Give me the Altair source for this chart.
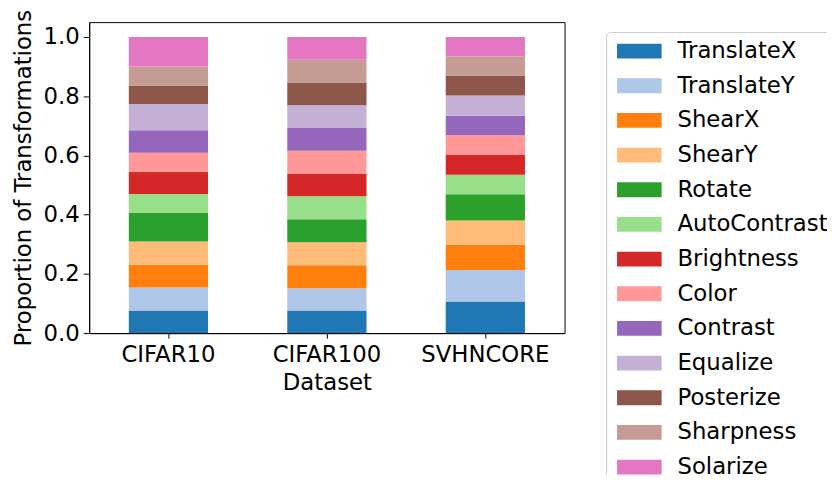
import altair as alt
import pandas as pd

datasets = ["CIFAR10", "CIFAR100", "SVHNCORE"]
transforms = ["TranslateX", "TranslateY", "ShearX", "ShearY", "Rotate", "AutoContrast",
              "Brightness", "Color", "Contrast", "Equalize", "Posterize", "Sharpness", "Solarize"]
colors = ["#1f77b4", "#aec7e8", "#ff7f0e", "#ffbb78", "#2ca02c", "#98df8a", "#d62728",
          "#ff9896", "#9467bd", "#c5b0d5", "#8c564b", "#c49c94", "#e377c2"]

cifar10 = [0.0762, 0.0774, 0.0773, 0.0785, 0.0976, 0.0627, 0.0751, 0.0639, 0.0763, 0.0885, 0.0628, 0.0639, 0.0998]
cifar100 = [0.0762, 0.0751, 0.0774, 0.0785, 0.0773, 0.0774, 0.0762, 0.0774, 0.0773, 0.0763, 0.0773, 0.0762, 0.0774]
svhncore = [0.1065, 0.1065, 0.0863, 0.0807, 0.0886, 0.0662, 0.0683, 0.0651, 0.0661, 0.0684, 0.0673, 0.0639, 0.0661]

rows = []
for ds, vals in zip(datasets, [cifar10, cifar100, svhncore]):
    for i, (t, v) in enumerate(zip(transforms, vals)):
        rows.append({"Dataset": ds, "Transformation": t, "Proportion": v, "idx": i})
df = pd.DataFrame(rows)

FONT = "DejaVu Sans"
FS = 23

chart = alt.Chart(df).mark_bar().encode(
    x=alt.X("Dataset:N", sort=datasets,
            scale=alt.Scale(paddingInner=0.5, paddingOuter=0.25),
            axis=alt.Axis(title="Dataset", labelAngle=0, labelFontSize=FS, titleFontSize=FS,
                          titleFontWeight="normal", tickSize=5, labelPadding=6, titlePadding=5,
                          domainColor="black", tickColor="black", labelColor="black", titleColor="black")),
    y=alt.Y("Proportion:Q", stack="zero",
            scale=alt.Scale(domain=[0, 1.05], nice=False),
            axis=alt.Axis(title="Proportion of Transformations", values=[0, 0.2, 0.4, 0.6, 0.8, 1.0],
                          format=".1f", labelFontSize=FS, titleFontSize=FS, titleFontWeight="normal",
                          tickSize=6, labelPadding=4, titlePadding=8, grid=False,
                          domainColor="black", tickColor="black", labelColor="black", titleColor="black")),
    color=alt.Color("Transformation:N", sort=transforms,
                    scale=alt.Scale(domain=transforms, range=colors),
                    legend=alt.Legend(title=None, orient="none", legendX=522, legendY=10,
                                      labelFontSize=FS, labelFont=FONT, labelColor="black",
                                      symbolType="M-1,-0.333H1V0.333H-1Z", symbolSize=2025,
                                      symbolStrokeWidth=0, symbolOffset=9, labelOffset=16,
                                      clipHeight=34.5, rowPadding=0,
                                      padding=2, strokeColor="#cccccc", cornerRadius=4,
                                      fillColor="white", labelLimit=300)),
    order=alt.Order("idx:Q", sort="ascending"),
).properties(
    width=480, height=314,
    autosize=alt.AutoSizeParams(type="none"),
    padding={"left": 82, "top": 12, "right": 265, "bottom": 141},
).configure(
    font=FONT
).configure_view(
    stroke="black", strokeWidth=1
)

chart.save("out.html", embed_options={"renderer": "svg", "actions": False})
